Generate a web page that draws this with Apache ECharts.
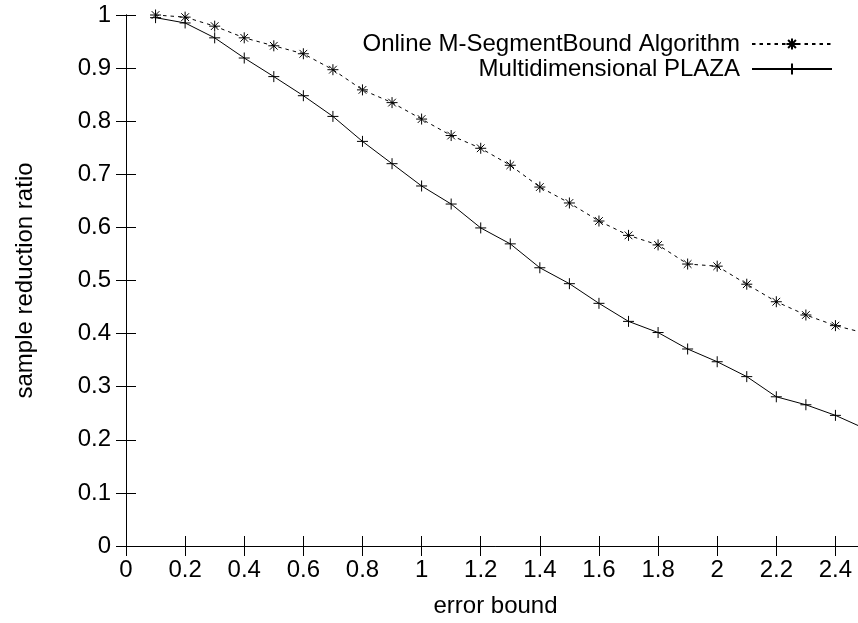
<!DOCTYPE html>
<html lang="en">

<head>
    <meta charset="UTF-8">
    <title>sample reduction ratio vs error bound</title>
    <script src="https://cdn.jsdelivr.net/npm/echarts@6/dist/echarts.min.js"></script>
    <style>
        html, body { margin: 0; padding: 0; overflow: hidden; background: #fff; }
    </style>
</head>

<body>
    <!-- a bit wider than the window: the right border of the plot is cut off in the original -->
    <div id="main" style="width: 866px;height:623px;"></div>
    <script type="text/javascript">
        // x values (error bound)
        const errorBound = [0.1, 0.2, 0.3, 0.4, 0.5, 0.6, 0.7, 0.8, 0.9, 1.0,
            1.1, 1.2, 1.3, 1.4, 1.5, 1.6, 1.7, 1.8, 1.9, 2.0,
            2.1, 2.2, 2.3, 2.4, 2.5];

        // sample reduction ratio
        const segmentBound = [1.0, 0.996, 0.979, 0.957, 0.942, 0.927, 0.897, 0.859, 0.835, 0.804,
            0.773, 0.749, 0.717, 0.676, 0.646, 0.612, 0.585, 0.567, 0.531, 0.527,
            0.493, 0.460, 0.435, 0.415, 0.401];
        const plaza = [0.995, 0.985, 0.957, 0.919, 0.884, 0.848, 0.809, 0.762, 0.720, 0.678,
            0.644, 0.599, 0.569, 0.524, 0.494, 0.457, 0.423, 0.402, 0.371, 0.347,
            0.319, 0.281, 0.266, 0.246, 0.221];

        const seriesNames = ['Online M-SegmentBound Algorithm', 'Multidimensional PLAZA'];

        const font = "'Liberation Sans', Arial, Helvetica, sans-serif";
        const starPath = 'path://M0,5H10M5,0V10M1.5,1.5L8.5,8.5M8.5,1.5L1.5,8.5';
        const plusPath = 'path://M0,5H10M5,0V10';

        const pairs = (ys) => errorBound.map((x, i) => [x, ys[i]]);

        // axis look shared by all four sides (gnuplot style box with inward ticks)
        const lineStyle = { color: '#000', width: 1 };
        const tick = { show: true, inside: true, length: 10, lineStyle: lineStyle };

        let options = {
            animation: false,
            textStyle: { fontFamily: font, color: '#000' },
            grid: { left: 126, right: 1, top: 15, bottom: 77 },
            legend: {
                orient: 'vertical',
                align: 'right',
                right: 28,
                top: 27,
                itemWidth: 80,
                itemHeight: 14,
                itemGap: 1,
                selectedMode: false,
                textStyle: { fontSize: 24, color: '#000', fontFamily: font, padding: [0, 7, 0, 0] },
                data: seriesNames
            },
            xAxis: [{
                type: 'value',
                position: 'bottom',
                min: 0, max: 2.5, interval: 0.2,
                name: 'error bound',
                nameLocation: 'middle',
                nameGap: 48,
                nameTextStyle: { fontSize: 24, color: '#000', fontFamily: font },
                axisLine: { show: true, lineStyle: lineStyle },
                axisTick: tick,
                splitLine: { show: false },
                axisLabel: {
                    fontSize: 24, color: '#000', fontFamily: font, margin: 12,
                    showMaxLabel: false,
                    formatter: (v) => String(Math.round(v * 10) / 10)
                }
            }, {
                type: 'value',
                position: 'top',
                min: 0, max: 2.5, interval: 0.2,
                axisLine: { show: true, lineStyle: lineStyle },
                axisTick: tick,
                splitLine: { show: false },
                axisLabel: { show: false }
            }],
            yAxis: [{
                type: 'value',
                position: 'left',
                min: 0, max: 1, interval: 0.1,
                name: 'sample reduction ratio',
                nameLocation: 'middle',
                nameGap: 89,
                nameTextStyle: { fontSize: 24, color: '#000', fontFamily: font },
                axisLine: { show: true, lineStyle: lineStyle },
                axisTick: tick,
                splitLine: { show: false },
                axisLabel: {
                    fontSize: 24, color: '#000', fontFamily: font, margin: 15,
                    formatter: (v) => String(Math.round(v * 10) / 10)
                }
            }, {
                type: 'value',
                position: 'right',
                min: 0, max: 1, interval: 0.1,
                axisLine: { show: true, lineStyle: lineStyle },
                axisTick: tick,
                splitLine: { show: false },
                axisLabel: { show: false }
            }],
            series: [{
                name: seriesNames[0],
                type: 'line',
                data: pairs(segmentBound),
                symbol: starPath,
                symbolSize: 11,
                showAllSymbol: true,
                clip: true,
                itemStyle: { color: '#000', borderColor: '#000', borderWidth: 1 },
                lineStyle: { color: '#000', width: 1, type: [3.5, 4] },
                emphasis: { disabled: true }
            }, {
                name: seriesNames[1],
                type: 'line',
                data: pairs(plaza),
                symbol: plusPath,
                symbolSize: 11,
                showAllSymbol: true,
                clip: true,
                itemStyle: { color: '#000', borderColor: '#000', borderWidth: 1 },
                lineStyle: { color: '#000', width: 1 },
                emphasis: { disabled: true }
            }]
        };

        let myChart = echarts.init(document.getElementById('main'));
        myChart.setOption(options);
    </script>
</body>

</html>
